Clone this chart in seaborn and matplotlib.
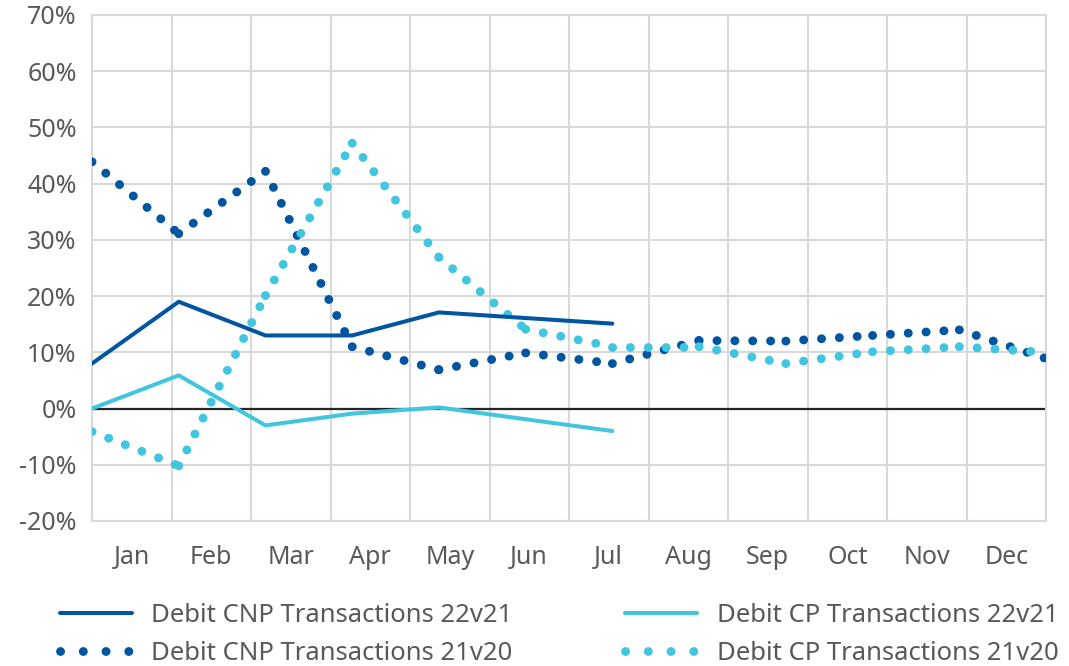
import numpy as np
import pandas as pd
import matplotlib
matplotlib.use("Agg")
import matplotlib.pyplot as plt
import seaborn as sns
from matplotlib.lines import Line2D

months = ["Jan", "Feb", "Mar", "Apr", "May", "Jun", "Jul", "Aug", "Sep", "Oct", "Nov", "Dec"]

cnp_22v21 = [8.0, 19.0, 13.0, 13.0, 17.1, 16.1, 15.1]
cp_22v21 = [0.0, 5.9, -3.0, -0.9, 0.2, -1.9, -4.0]
cnp_21v20 = [43.9, 31.1, 42.2, 11.0, 6.9, 9.9, 8.0, 12.1, 12.0, 13.0, 14.0, 8.9]
cp_21v20 = [-4.1, -10.2, 20.1, 47.2, 26.9, 14.1, 11.0, 11.0, 8.0, 10.1, 11.0, 10.0]

y_ticks = [-20, -10, 0, 10, 20, 30, 40, 50, 60, 70]

dark = "#0055A0"
light = "#42C5DF"
grey_txt = "#595959"
grid_col = "#D9D9D9"
tick_fs = 18
leg_fs = 18.5

sns.set_theme(style="white")
plt.rcParams["font.family"] = ["Noto Sans", "DejaVu Sans"]

fig = plt.figure(figsize=(10.69, 6.66), dpi=100)
ax = fig.add_axes([92 / 1069, 1 - 521 / 666, (1046 - 92) / 1069, (521 - 15) / 666])

# solid series, one point per month, spanning the axis edge to edge
solid = pd.DataFrame({
    "pos": list(range(len(cnp_22v21))) + list(range(len(cp_22v21))),
    "val": cnp_22v21 + cp_22v21,
    "series": ["Debit CNP Transactions 22v21"] * len(cnp_22v21)
    + ["Debit CP Transactions 22v21"] * len(cp_22v21),
})
sns.lineplot(data=solid, x="pos", y="val", hue="series",
             palette=[dark, light], linewidth=2.9, legend=False, ax=ax,
             zorder=4, solid_capstyle="round")

# dotted series: each month-to-month segment drawn on its own so the dot
# pattern restarts at every data point
dot_lw = 6.4
dot_style = (0, (0.01, 2.0))
for vals, col in [(cnp_21v20, dark), (cp_21v20, light)]:
    pos = np.arange(len(vals))
    for i in range(len(vals) - 1):
        seg = pd.DataFrame({"pos": pos[i:i + 2], "val": vals[i:i + 2]})
        sns.lineplot(data=seg, x="pos", y="val", color=col, linewidth=dot_lw,
                     linestyle=dot_style, dash_capstyle="round", ax=ax,
                     zorder=3)

ax.axhline(0, color="#262626", linewidth=1.6, zorder=2)

n = len(months)
span = 11
ax.set_xlim(0, span)
ax.set_ylim(-20, 70)
ax.set_xticks([(i + 0.5) * span / n for i in range(n)])
ax.set_xticklabels(months)
ax.set_xticks([i * span / n for i in range(n + 1)], minor=True)
ax.set_yticks(y_ticks)
ax.set_yticklabels([f"{v}%" for v in y_ticks])
ax.grid(which="minor", axis="x", color=grid_col, linewidth=1.5)
ax.grid(which="major", axis="y", color=grid_col, linewidth=1.5)
ax.grid(which="major", axis="x", visible=False)
ax.tick_params(axis="both", which="both", length=0, labelsize=tick_fs, colors=grey_txt)
ax.tick_params(axis="x", pad=17)
ax.tick_params(axis="y", pad=11)
for sp in ax.spines.values():
    sp.set_color(grid_col)
    sp.set_linewidth(1.5)
ax.set_xlabel("")
ax.set_ylabel("")

leg_dots = (0, (0.01, 2.55))
handles = [
    Line2D([], [], color=dark, linewidth=2.9),
    Line2D([], [], color=dark, linewidth=dot_lw, linestyle=leg_dots,
           dash_capstyle="round"),
    Line2D([], [], color=light, linewidth=2.9),
    Line2D([], [], color=light, linewidth=dot_lw, linestyle=leg_dots,
           dash_capstyle="round"),
]
labels = ["Debit CNP Transactions 22v21", "Debit CNP Transactions 21v20",
          "Debit CP Transactions 22v21", "Debit CP Transactions 21v20"]
fig.legend(handles, labels, ncol=2, loc="upper left",
           bbox_to_anchor=(47 / 1069, 1 - 590 / 666), frameon=False,
           fontsize=leg_fs, handlelength=2.8, handletextpad=0.75,
           columnspacing=4.4, labelspacing=0.5, borderpad=0, labelcolor=grey_txt)

fig.savefig("out.png", dpi=100)
